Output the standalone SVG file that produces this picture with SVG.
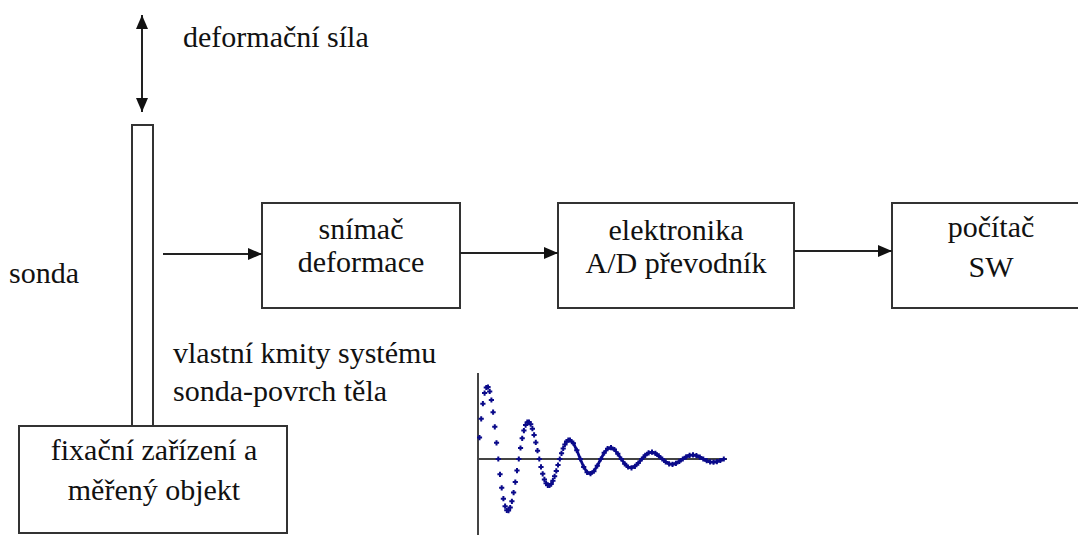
<svg xmlns="http://www.w3.org/2000/svg" width="1078" height="535" viewBox="0 0 1078 535">
<style>
.box{fill:#fff;stroke:#333;stroke-width:2}
.t{font-family:'Liberation Serif','Times New Roman',serif;font-size:30px;fill:#111}
.c{text-anchor:middle}
.ln{stroke:#222;stroke-width:2;fill:none}
.ax{stroke:#444;stroke-width:2;fill:none}
</style>
<defs>
<marker id="ah" viewBox="0 0 14 12" refX="14" refY="6" markerWidth="14" markerHeight="12" markerUnits="userSpaceOnUse" orient="auto-start-reverse">
<path d="M0,0 L14,6 L0,12 Z" fill="#111"/>
</marker>
<marker id="pl" viewBox="-3 -3 6 6" refX="0" refY="0" markerWidth="6" markerHeight="6" markerUnits="userSpaceOnUse" orient="0">
<path d="M-2.6,0 H2.6 M0,-2.6 V2.6" stroke="#0a0a8a" stroke-width="2"/>
</marker>
</defs>
<g id="force-label"><text class="t" x="183" y="47">deformační síla</text></g>
<g id="sonda-label"><text class="t" x="9" y="283">sonda</text></g>
<g id="probe"><rect class="box" x="132" y="125" width="21" height="302"/></g>
<g id="fixace"><rect class="box" x="19" y="426" width="268" height="107"/>
<text class="t c" x="154" y="460">fixační zařízení a</text>
<text class="t c" x="154" y="500">měřený objekt</text></g>
<g id="snimac"><rect class="box" x="262" y="203" width="198" height="105"/>
<text class="t c" x="361" y="239">snímač</text>
<text class="t c" x="361" y="272">deformace</text></g>
<g id="elektronika"><rect class="box" x="558" y="203" width="236" height="105"/>
<text class="t c" x="676" y="240">elektronika</text>
<text class="t c" x="676" y="273">A/D převodník</text></g>
<g id="pocitac"><rect class="box" x="892" y="203" width="200" height="105"/>
<text class="t c" x="991" y="237">počítač</text>
<text class="t c" x="991" y="277">SW</text></g>
<g id="kmity-label"><text class="t" x="173" y="363">vlastní kmity systému</text>
<text class="t" x="173" y="401">sonda-povrch těla</text></g>
<g id="connectors">
<line class="ln" x1="142" y1="15" x2="142" y2="112" marker-start="url(#ah)" marker-end="url(#ah)"/>
<line class="ln" x1="163" y1="254" x2="262" y2="254" marker-end="url(#ah)"/>
<line class="ln" x1="460" y1="253" x2="558" y2="253" marker-end="url(#ah)"/>
<line class="ln" x1="794" y1="251" x2="892" y2="251" marker-end="url(#ah)"/>
</g>
<g id="graph">
<line class="ax" x1="478" y1="373" x2="478" y2="535"/>
<line class="ax" x1="478" y1="459" x2="727" y2="459"/>
<polyline fill="none" stroke="#0a0a8a" stroke-width="2.8" stroke-linejoin="round" points="570,440 573.4,443.2 576.8,450.3 580.3,459 583.7,467 587.1,472.3 590.5,473.7 593.9,471.2 597.3,465.8 600.8,459 604.2,452.8 607.6,448.7 611,447.6 614.4,449.5 617.8,453.8 621.3,459 624.7,463.8 628.1,467 631.5,467.8 634.9,466.3 638.3,463.1 641.8,459 645.2,455.3 648.6,452.8 652,452.2 655.4,453.3 658.8,455.9 662.3,459 665.7,461.9 669.1,463.8 672.5,464.3 675.9,463.4 679.3,461.4 682.8,459 686.2,456.8 689.6,455.3 693,454.9 696.4,455.6 699.8,457.1 703.3,459 706.7,460.7 710.1,461.9 713.5,462.2 716.9,461.6 720.3,460.5 723.8,459"/>
<polyline fill="none" stroke="none" marker-start="url(#pl)" marker-mid="url(#pl)" marker-end="url(#pl)" points="479.5,437.6 481.2,418.8 482.9,403.7 484.6,393.1 486.3,387.5 488,387 489.7,391.4 491.4,400 493.1,412.2 494.8,426.8 496.5,442.8 498.3,459 500,474.3 501.7,487.8 503.4,498.7 505.1,506.2 506.8,510.3 508.5,510.6 510.2,507.5 511.9,501.3 513.6,492.6 515.3,482.1 517,470.6 518.8,459 520.5,448 522.2,438.3 523.9,430.6 525.6,425.1 527.3,422.2 529,422 530.7,424.2 532.4,428.7 534.1,434.9 535.8,442.4 537.5,450.7 539.3,459 541,466.9 542.7,473.8 544.4,479.4 546.1,483.3 547.8,485.3 549.5,485.5 551.2,483.9 552.9,480.7 554.6,476.3 556.3,470.9 558,465 559.8,459 561.5,453.3 563.2,448.4 564.9,444.4 566.6,441.6 568.3,440.1 570,440 573.4,443.2 576.8,450.3 580.3,459 583.7,467 587.1,472.3 590.5,473.7 593.9,471.2 597.3,465.8 600.8,459 604.2,452.8 607.6,448.7 611,447.6 614.4,449.5 617.8,453.8 621.3,459 624.7,463.8 628.1,467 631.5,467.8 634.9,466.3 638.3,463.1 641.8,459 645.2,455.3 648.6,452.8 652,452.2 655.4,453.3 658.8,455.9 662.3,459 665.7,461.9 669.1,463.8 672.5,464.3 675.9,463.4 679.3,461.4 682.8,459 686.2,456.8 689.6,455.3 693,454.9 696.4,455.6 699.8,457.1 703.3,459 706.7,460.7 710.1,461.9 713.5,462.2 716.9,461.6 720.3,460.5 723.8,459"/>
</g>
</svg>
